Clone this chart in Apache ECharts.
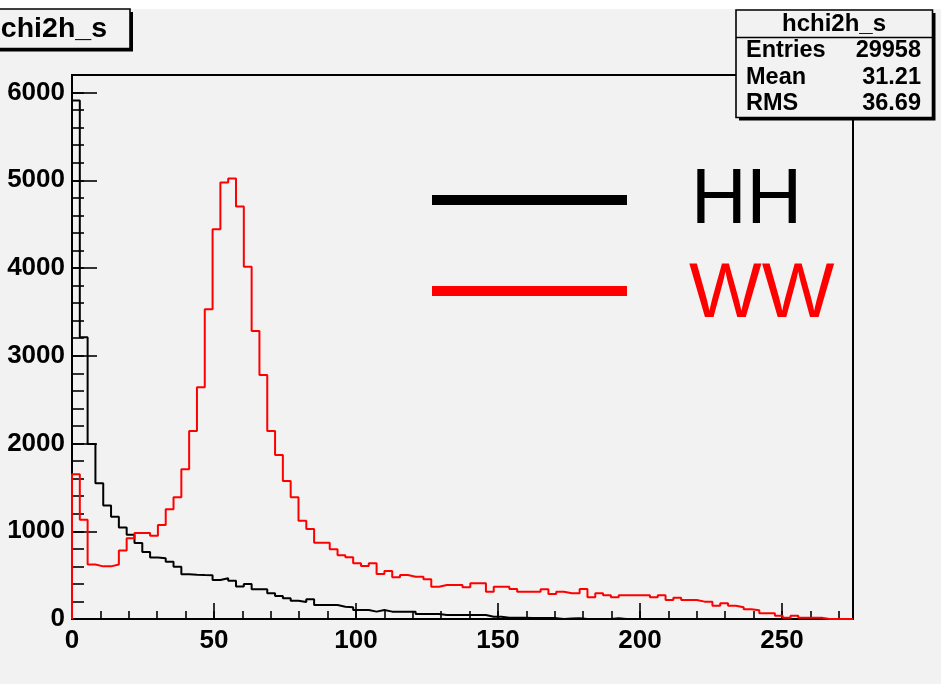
<!DOCTYPE html>
<html><head><meta charset="utf-8">
<script src="https://cdn.jsdelivr.net/npm/echarts@6/dist/echarts.min.js"></script>
<style>html,body{margin:0;padding:0;background:#f2f2f2;}#c{width:941px;height:684px;}</style>
</head><body><div id="c"></div>
<script>
// histogram: 100 bins from 0 to 275
const binWidth = 2.75;
const xMax = 275;
const yMax = 6200;
const seriesNames = ['HH', 'WW'];
const hhValues = [
5909,3210,1995,1547,1294,1164,1042,960,866,764,
700,692,653,596,510,505,502,500,445,464,
437,369,399,338,338,293,262,236,209,194,
224,160,160,160,140,133,103,103,84,103,
84,84,84,84,57,57,57,46,46,46,
46,46,46,26,26,15,15,15,12,12,
10,10,0,5,8,0,0,0,0,8,
0,0,0,0,0,0,0,0,0,0,
0,0,0,0,0,0,0,0,0,0,
0,0,0,0,0,0,0,0,0,0];
const wwValues = [
1650,1130,620,600,600,620,780,920,980,980,
950,1072,1250,1387,1706,2143,2641,3531,4442,4974,
5020,4700,4016,3283,2782,2143,1870,1573,1387,1121,
1026,870,870,794,726,703,635,604,635,513,
547,475,502,482,482,452,368,388,388,388,
361,407,407,311,368,368,342,311,311,311,
338,285,311,293,293,342,247,293,270,247,
270,270,270,270,247,270,217,243,217,217,
198,198,152,179,152,133,110,100,65,65,
38,15,38,15,15,15,0,0,0,0];
const statsTitle = 'hchi2h_s';
const statsLabels = ['Entries', 'Mean', 'RMS'];
const statsValues = ['29958', '31.21', '36.69'];

function stepData(vals) {
  const d = [[0, 0]];
  vals.forEach((v, i) => d.push([i * binWidth, v]));
  d.push([vals.length * binWidth, vals[vals.length - 1]]);
  d.push([vals.length * binWidth, 0]);
  return d;
}

const FONT = '"Liberation Sans", Arial, Helvetica, sans-serif';
const chart = echarts.init(document.getElementById('c'));

const tickStyle = { color: '#000', width: 1.6 };
const labelStyle = { color: '#000', fontSize: 26, fontWeight: 'bold', fontFamily: FONT, formatter: v => String(v) };

const graphics = [
  { type: 'rect', shape: { x: 0, y: 0, width: 941, height: 9 }, style: { fill: '#ffffff' }, z: 1 },
  // title box
  { type: 'rect', shape: { x: -20, y: 12, width: 153, height: 39.5 }, style: { fill: '#000' }, z: 10 },
  { type: 'rect', shape: { x: -20, y: 9, width: 150, height: 39.5 }, style: { fill: '#f2f2f2', stroke: '#000', lineWidth: 1.6 }, z: 11 },
  { type: 'text', style: { text: statsTitle, x: 107, y: 29.5, font: 'bold 28.5px ' + FONT, fill: '#000', textAlign: 'right', textVerticalAlign: 'middle' }, z: 12 },
  // stats box
  { type: 'rect', shape: { x: 739, y: 13, width: 196.5, height: 107.5 }, style: { fill: '#000' }, z: 10 },
  { type: 'rect', shape: { x: 736, y: 10, width: 196.5, height: 107.5 }, style: { fill: '#f2f2f2', stroke: '#000', lineWidth: 1.6 }, z: 11 },
  { type: 'line', shape: { x1: 736, y1: 37.5, x2: 932.5, y2: 37.5 }, style: { stroke: '#000', lineWidth: 1.6 }, z: 12 },
  { type: 'text', style: { text: statsTitle, x: 834, y: 24, font: 'bold 24px ' + FONT, fill: '#000', textAlign: 'center', textVerticalAlign: 'middle' }, z: 12 },
  // legend
  { type: 'line', shape: { x1: 432, y1: 200, x2: 627, y2: 200 }, style: { stroke: '#000', lineWidth: 10 }, z: 12 },
  { type: 'line', shape: { x1: 432, y1: 291, x2: 627, y2: 291 }, style: { stroke: '#ff0000', lineWidth: 10 }, z: 12 },
  { type: 'text', style: { text: seriesNames[0], x: 691, y: 202, font: '77px ' + FONT, fill: '#000', textAlign: 'left', textVerticalAlign: 'middle' }, z: 12 },
  { type: 'text', style: { text: seriesNames[1], x: 689, y: 296, font: '77px ' + FONT, fill: '#ff0000', textAlign: 'left', textVerticalAlign: 'middle' }, z: 12 }
];
const rowY = [51, 77.5, 104];
statsLabels.forEach((lab, i) => {
  graphics.push({ type: 'text', style: { text: lab, x: 746, y: rowY[i], font: 'bold 23.5px ' + FONT, fill: '#000', textAlign: 'left', textVerticalAlign: 'middle' }, z: 12 });
  graphics.push({ type: 'text', style: { text: statsValues[i], x: 921, y: rowY[i], font: 'bold 23.5px ' + FONT, fill: '#000', textAlign: 'right', textVerticalAlign: 'middle' }, z: 12 });
});

chart.setOption({
  animation: false,
  backgroundColor: '#f2f2f2',
  grid: { left: 72, right: 88, top: 75, bottom: 65, show: true, borderColor: '#000', borderWidth: 2, backgroundColor: 'transparent' },
  xAxis: [
    { type: 'value', min: 0, max: xMax, interval: 50, position: 'bottom',
      axisLine: { show: true, lineStyle: { color: '#000', width: 2 } },
      axisTick: { show: true, inside: true, length: 16, lineStyle: tickStyle },
      axisLabel: Object.assign({ margin: 9, showMaxLabel: false }, labelStyle),
      splitLine: { show: false } },
    { type: 'value', min: 0, max: xMax, interval: 10, position: 'bottom',
      axisLine: { show: false },
      axisTick: { show: true, inside: true, length: 8, lineStyle: tickStyle },
      axisLabel: { show: false }, splitLine: { show: false } }
  ],
  yAxis: [
    { type: 'value', min: 0, max: yMax, interval: 1000, position: 'left',
      axisLine: { show: true, lineStyle: { color: '#000', width: 2 } },
      axisTick: { show: true, inside: true, length: 25, lineStyle: tickStyle },
      axisLabel: Object.assign({ margin: 7, showMaxLabel: false }, labelStyle),
      splitLine: { show: false } },
    { type: 'value', min: 0, max: yMax, interval: 200, position: 'left',
      axisLine: { show: false },
      axisTick: { show: true, inside: true, length: 12, lineStyle: tickStyle },
      axisLabel: { show: false }, splitLine: { show: false } }
  ],
  series: [
    { name: seriesNames[0], type: 'line', step: 'end', data: stepData(hhValues), showSymbol: false, clip: false,
      lineStyle: { color: '#000', width: 2 }, itemStyle: { color: '#000' }, z: 3 },
    { name: seriesNames[1], type: 'line', step: 'end', data: stepData(wwValues), showSymbol: false, clip: false,
      lineStyle: { color: '#ff0000', width: 2 }, itemStyle: { color: '#ff0000' }, z: 4 }
  ],
  graphic: { elements: graphics }
});
</script></body></html>
